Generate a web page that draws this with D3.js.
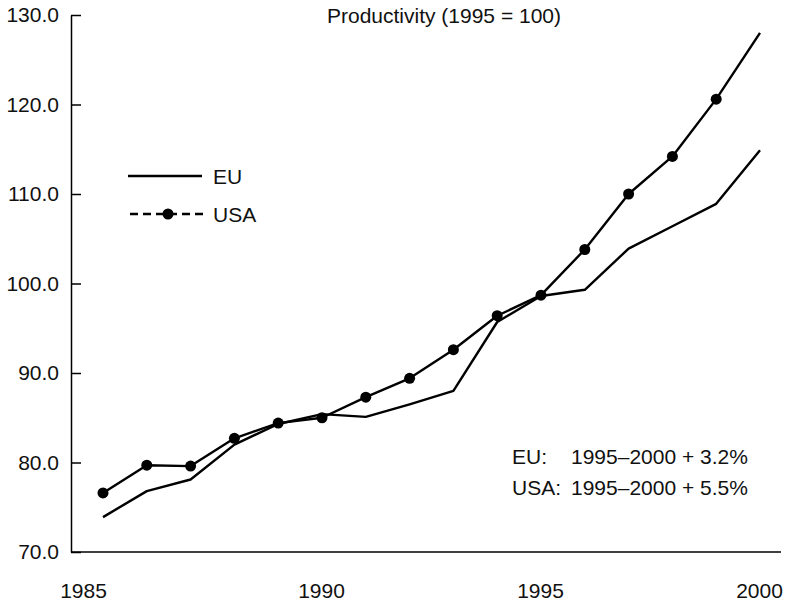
<!DOCTYPE html>
<html lang="en">
<head>
<meta charset="UTF-8">
<title>Productivity (1995 = 100)</title>
<script src="https://d3js.org/d3.v7.min.js"></script>
<style>
    body { margin: 0; background: #fff; }
    svg text { font-family: "Liberation Sans", Arial, Helvetica, sans-serif; fill: #111; }
    .series { fill: none; stroke: #000; stroke-width: 2.4; stroke-linejoin: round; }
</style>
</head>
<body>
<svg width="786" height="603"></svg>
<script>
    // data
    const years = [1985, 1986, 1987, 1988, 1989, 1990, 1991, 1992, 1993, 1994, 1995, 1996, 1997, 1998, 1999, 2000];
    const euValues = [73.9, 76.8, 78.1, 82.0, 84.3, 85.4, 85.1, 86.5, 88.0, 95.7, 98.6, 99.3, 103.9, 106.4, 108.9, 114.9];
    const usaValues = [76.6, 79.7, 79.6, 82.7, 84.4, 85.0, 87.3, 89.4, 92.6, 96.4, 98.7, 103.8, 110.0, 114.2, 120.6, 128.0];
    const yTicks = [70, 80, 90, 100, 110, 120, 130];
    const xTicks = [1985, 1990, 1995, 2000];
    const title = "Productivity (1995 = 100)";
    const notes = [["EU:", "1995\u20132000 + 3.2%"], ["USA:", "1995\u20132000 + 5.5%"]];

    const svg = d3.select("svg");
    const fontSize = 21;

    const x = d3.scaleLinear().domain([1985, 2000]).range([103, 760]);
    const y = d3.scaleLinear().domain([70, 130]).range([552, 15]);

    // y axis, ticks pointing inward
    const yAxis = svg.append("g")
        .attr("transform", "translate(71,0)")
        .call(d3.axisLeft(y).tickValues(yTicks).tickFormat(d3.format(".1f"))
            .tickSizeInner(-10).tickSizeOuter(0).tickPadding(12));
    yAxis.selectAll("path, line").attr("stroke", "#000").attr("stroke-width", 1.5);
    yAxis.selectAll("text").attr("font-size", fontSize).style("font-family", null);

    // x axis: plain baseline, labels only
    svg.append("line")
        .attr("x1", 71).attr("x2", 781)
        .attr("y1", y(70)).attr("y2", y(70))
        .attr("stroke", "#000").attr("stroke-width", 1.5);
    const xAxis = svg.append("g")
        .attr("transform", `translate(0,${y(70)})`)
        .call(d3.axisBottom(x).tickValues(xTicks).tickFormat(d3.format("d"))
            .tickSize(0).tickPadding(31));
    xAxis.select(".domain").remove();
    xAxis.selectAll("text").attr("font-size", fontSize).style("font-family", null)
        .attr("dx", d => d === 1985 ? -20 : -1);

    const line = d3.line()
        .x((d, i) => x(years[i]))
        .y(d => y(d));

    svg.append("path").datum(euValues).attr("class", "series").attr("d", line);
    svg.append("path").datum(usaValues).attr("class", "series").attr("d", line);

    // markers on the USA line (no marker on the last year)
    svg.selectAll(".dot")
        .data(usaValues.slice(0, -1))
        .join("circle")
        .attr("class", "dot")
        .attr("cx", (d, i) => x(years[i]))
        .attr("cy", d => y(d))
        .attr("r", 5.5)
        .attr("fill", "#000");

    // title
    svg.append("text")
        .attr("x", 444).attr("y", 23)
        .attr("text-anchor", "middle")
        .attr("font-size", fontSize)
        .text(title);

    // legend
    const legend = svg.append("g");
    legend.append("line")
        .attr("x1", 128).attr("x2", 202).attr("y1", 176).attr("y2", 176)
        .attr("stroke", "#000").attr("stroke-width", 2.4);
    legend.append("text").attr("x", 213).attr("y", 184)
        .attr("font-size", fontSize).text("EU");
    legend.append("line")
        .attr("x1", 130).attr("x2", 203).attr("y1", 214).attr("y2", 214)
        .attr("stroke", "#000").attr("stroke-width", 2.4)
        .attr("stroke-dasharray", "8,5");
    legend.append("circle").attr("cx", 168).attr("cy", 214).attr("r", 5.5).attr("fill", "#000");
    legend.append("text").attr("x", 213).attr("y", 222)
        .attr("font-size", fontSize).text("USA");

    // growth notes
    notes.forEach((n, i) => {
        const ty = 464 + i * 31;
        svg.append("text").attr("x", 512).attr("y", ty).attr("font-size", fontSize).text(n[0]);
        svg.append("text").attr("x", 571).attr("y", ty).attr("font-size", fontSize).text(n[1]);
    });
</script>
</body>
</html>
